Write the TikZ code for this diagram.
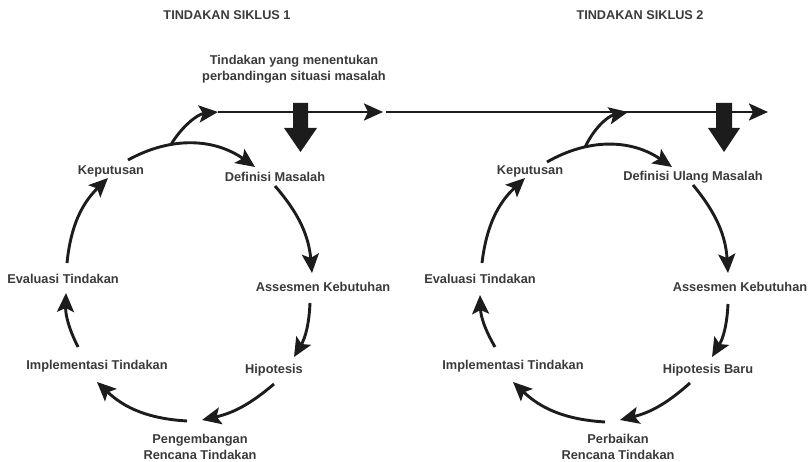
\documentclass[tikz,border=0pt]{standalone}
\usepackage{fontspec}
\setmainfont{Liberation Sans}
\usetikzlibrary{arrows.meta}
\definecolor{ink}{HTML}{1C1C1C}
\definecolor{txt}{HTML}{3A3A3A}
\tikzset{
  lbl/.style={font=\fontsize{12.8}{16.5}\selectfont\bfseries, text=txt, inner sep=0pt, align=center},
  ttl/.style={font=\fontsize{12.7}{15}\selectfont\bfseries, text=txt, inner sep=0pt},
  flow/.style={draw=ink, line width=2.9pt, -{Stealth[length=19pt,width=17pt,inset=4pt]}},
  bigarrow/.style={fill=ink, draw=none}
}
\begin{document}
\begin{tikzpicture}[x=1pt,y=1pt]
\useasboundingbox (0,0) rectangle (811,462);

% headings
\node[ttl] (t1) at (227,447) {TINDAKAN SIKLUS 1};
\node[ttl] (t2) at (640,447) {TINDAKAN SIKLUS 2};
\node[lbl] (note) at (294,393) {Tindakan yang menentukan\\perbandingan situasi masalah};

% timeline
\coordinate (tl0) at (218,350);
\coordinate (tlm) at (383,350);
\coordinate (tlm2) at (386,350);
\coordinate (tl2) at (628,350);
\coordinate (tlend) at (768,350);
\draw[flow, line width=2.6pt] (tl0) -- (tlm);
\draw[flow, line width=2.6pt] (tlm2) -- (tlend);

% block arrows dropping from the timeline
\fill[bigarrow] (293,359) -- (308,359) -- (308,334) -- (317,334) -- (300.5,310)
  -- (284,334) -- (293,334) -- cycle;
\fill[bigarrow] (716,359) -- (732,359) -- (732,334) -- (740,334) -- (724,310)
  -- (708,334) -- (716,334) -- cycle;

% ---- cycle 1 ----
\node[lbl] (kep1) at (111,291) {Keputusan};
\node[lbl] (def1) at (275,285) {Definisi Masalah};
\node[lbl] (ass1) at (323,175) {Assesmen Kebutuhan};
\node[lbl] (hip1) at (274,92) {Hipotesis};
\node[lbl] (pen1) at (200,15) {Pengembangan\\Rencana Tindakan};
\node[lbl] (imp1) at (97,96) {Implementasi Tindakan};
\node[lbl] (eva1) at (63,183) {Evaluasi Tindakan};

\draw[flow] ([shift={(17,11)}]kep1.center) to[bend left=32] coordinate[pos=0.33] (br1) ([shift={(-20,10)}]def1.center);
\draw[flow] ([shift={(0,-9)}]def1.center) to[bend left=18] ([shift={(-11,14)}]ass1.center);
\draw[flow] ([shift={(-13,-16)}]ass1.center) to[bend left=14] ([shift={(20,13)}]hip1.center);
\draw[flow] ([shift={(0,-14)}]hip1.center) to[bend left=14] ([shift={(2,27)}]pen1.center);
\draw[flow] ([shift={(-13,26)}]pen1.center) to[bend left=20] ([shift={(0,-16)}]imp1.center);
\draw[flow] ([shift={(-19,19)}]imp1.center) to[bend left=14] ([shift={(3,-14)}]eva1.center);
\draw[flow] ([shift={(4,16)}]eva1.center) to[bend left=20] ([shift={(-3,-7)}]kep1.center);
\draw[flow] (br1) .. controls (182,336) and (198,348) .. (tl0);

% ---- cycle 2 ----
\node[lbl] (kep2) at (530,291) {Keputusan};
\node[lbl] (def2) at (693,285) {Definisi Ulang Masalah};
\node[lbl] (ass2) at (740,175) {Assesmen Kebutuhan};
\node[lbl] (hip2) at (708,92) {Hipotesis Baru};
\node[lbl] (per2) at (618,15) {Perbaikan\\Rencana Tindakan};
\node[lbl] (imp2) at (513,96) {Implementasi Tindakan};
\node[lbl] (eva2) at (480,183) {Evaluasi Tindakan};

\draw[flow] ([shift={(17,9)}]kep2.center) to[bend left=32] coordinate[pos=0.3] (br2) ([shift={(-21,10)}]def2.center);
\draw[flow] ([shift={(0,-8)}]def2.center) to[bend left=18] ([shift={(-12,14)}]ass2.center);
\draw[flow] ([shift={(-12,-17)}]ass2.center) to[bend left=14] ([shift={(4,13)}]hip2.center);
\draw[flow] ([shift={(-18,-13)}]hip2.center) to[bend left=14] ([shift={(2,27)}]per2.center);
\draw[flow] ([shift={(-13,25)}]per2.center) to[bend left=20] ([shift={(0,-16)}]imp2.center);
\draw[flow] ([shift={(-18,19)}]imp2.center) to[bend left=14] ([shift={(0,-16)}]eva2.center);
\draw[flow] ([shift={(2,16)}]eva2.center) to[bend left=20] ([shift={(-5,-7)}]kep2.center);
\draw[flow] (br2) .. controls (594,334) and (608,346) .. (tl2);
\end{tikzpicture}
\end{document}
